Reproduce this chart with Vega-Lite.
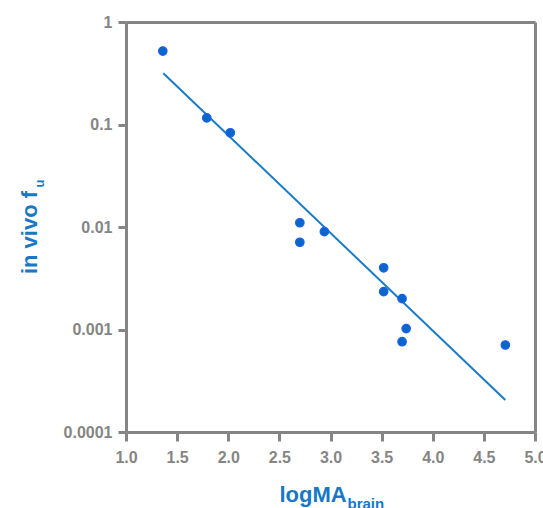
{
  "$schema": "https://vega.github.io/schema/vega-lite/v6.json",
  "width": 409,
  "height": 410,
  "autosize": {"type": "none"},
  "padding": {"left": 126, "top": 22, "right": 8, "bottom": 76},
  "background": "white",
  "config": {
    "view": {"stroke": null},
    "font": "Liberation Sans",
    "axis": {
      "grid": false,
      "labelFlush": false,
      "labelOverlap": false,
      "domainColor": "#858585",
      "domainWidth": 3,
      "tickColor": "#858585",
      "tickWidth": 3,
      "labelColor": "#858585",
      "labelFont": "Liberation Sans",
      "labelFontWeight": "bold",
      "labelFontSize": 16,
      "titleFont": "Liberation Sans",
      "titleFontWeight": "bold",
      "titleColor": "#1878c4"
    }
  },
  "datasets": {
    "points": [
      {"x": 1.36, "fu": 0.52},
      {"x": 1.79, "fu": 0.116},
      {"x": 2.02, "fu": 0.083},
      {"x": 2.70, "fu": 0.011},
      {"x": 2.70, "fu": 0.0071},
      {"x": 2.94, "fu": 0.009},
      {"x": 3.52, "fu": 0.004},
      {"x": 3.52, "fu": 0.00234},
      {"x": 3.70, "fu": 0.002},
      {"x": 3.74, "fu": 0.00102},
      {"x": 3.70, "fu": 0.00076},
      {"x": 4.71, "fu": 0.000706}
    ],
    "fit": [
      {"x": 1.365, "fu": 0.316},
      {"x": 4.71, "fu": 0.000205}
    ]
  },
  "layer": [
    {
      "data": {"name": "fit"},
      "mark": {"type": "line", "color": "#1a7cc6", "strokeWidth": 2},
      "encoding": {
        "x": {
          "field": "x", "type": "quantitative",
          "scale": {"domain": [1, 5], "nice": false, "zero": false},
          "axis": {
            "orient": "top", "ticks": false, "labels": false, "domain": true,
            "title": "brain", "titleFontSize": 15, "titleAlign": "left",
            "titleBaseline": "alphabetic", "titleX": 221, "titleY": 486, "titleAngle": 0
          }
        },
        "y": {
          "field": "fu", "type": "quantitative",
          "scale": {"type": "log", "domain": [0.0001, 1], "nice": false},
          "axis": {
            "orient": "right", "ticks": false, "labels": false, "domain": true,
            "title": "u", "titleFontSize": 13, "titleAngle": -90, "titleAlign": "center",
            "titleBaseline": "alphabetic", "titleX": -492, "titleY": 161
          }
        }
      }
    },
    {
      "data": {"name": "points"},
      "mark": {"type": "point", "filled": true, "fill": "#0a66c8", "stroke": "#1a5ff0", "strokeWidth": 1.2, "size": 72, "opacity": 1},
      "encoding": {
        "x": {
          "field": "x", "type": "quantitative",
          "axis": {
            "orient": "bottom", "values": [1, 1.5, 2, 2.5, 3, 3.5, 4, 4.5, 5], "format": ".1f",
            "tickSize": 9, "labelPadding": 8,
            "title": "logMA", "titleFontSize": 22, "titleAlign": "left",
            "titleBaseline": "alphabetic", "titleX": 153, "titleY": 69
          }
        },
        "y": {
          "field": "fu", "type": "quantitative",
          "axis": {
            "orient": "left", "values": [0.0001, 0.001, 0.01, 0.1, 1], "format": "~g",
            "tickSize": 8, "labelPadding": 6,
            "title": "in vivo f", "titleFontSize": 22, "titleAngle": -90, "titleAlign": "center",
            "titleBaseline": "alphabetic", "titleX": -90, "titleY": 210
          }
        }
      }
    }
  ],
  "resolve": {"axis": {"x": "independent", "y": "independent"}}
}
